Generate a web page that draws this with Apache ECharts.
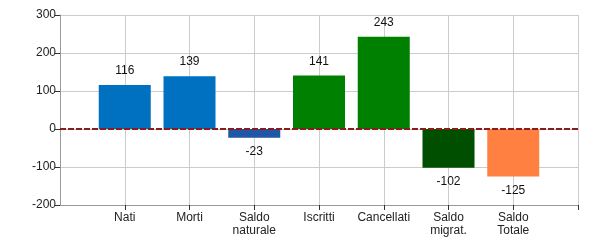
<!DOCTYPE html>
<html><head><meta charset="utf-8">
<script src="https://cdn.jsdelivr.net/npm/echarts@6/dist/echarts.min.js"></script>
<style>html,body{margin:0;padding:0;background:#fff}#c{width:600px;height:250px}</style>
</head><body><div id="c"></div>
<script>
const categories = ['', 'Nati', 'Morti', 'Saldo\nnaturale', 'Iscritti', 'Cancellati', 'Saldo\nmigrat.', 'Saldo\nTotale', ''];
const values = [null, 116, 139, -23, 141, 243, -102, -125, null];
const barColors = [null, '#0070C0', '#0070C0', '#1F56A5', '#008000', '#008000', '#004F00', '#FF8040', null];
const yTicks = { min: -200, max: 300, interval: 100 };

const chart = echarts.init(document.getElementById('c'));
chart.setOption({
  animation: false,
  textStyle: { fontFamily: 'Liberation Sans, Arial, sans-serif' },
  grid: { left: 60, right: 22, top: 15, bottom: 45, containLabel: false },
  xAxis: {
    type: 'category', data: categories, boundaryGap: false,
    axisLine: { onZero: false, lineStyle: { color: '#999' } },
    axisTick: { show: true, length: 5, interval: (i) => i !== 0, lineStyle: { color: '#333' } },
    axisLabel: { interval: 0, color: '#222', fontSize: 12, lineHeight: 13, margin: 6 },
    splitLine: { show: true, lineStyle: { color: '#ccc' } }
  },
  yAxis: {
    type: 'value', min: yTicks.min, max: yTicks.max, interval: yTicks.interval,
    axisLine: { show: true, lineStyle: { color: '#999' } },
    axisTick: { show: true, length: 5, lineStyle: { color: '#333' } },
    axisLabel: { color: '#222', fontSize: 12, margin: 4 },
    splitLine: { lineStyle: { color: '#ccc' } }
  },
  series: [{
    type: 'bar', barWidth: 52,
    data: values.map((v, i) => v === null ? null : {
      value: v,
      itemStyle: { color: barColors[i] },
      label: { show: true, position: v >= 0 ? 'top' : 'bottom', distance: 8, color: '#111', fontSize: 12 }
    }),
    markLine: {
      silent: true, symbol: ['none', 'none'], label: { show: false },
      lineStyle: { color: '#8B1A1A', type: [6, 2], width: 2 },
      data: [{ yAxis: 0 }]
    }
  }]
});
</script></body></html>
